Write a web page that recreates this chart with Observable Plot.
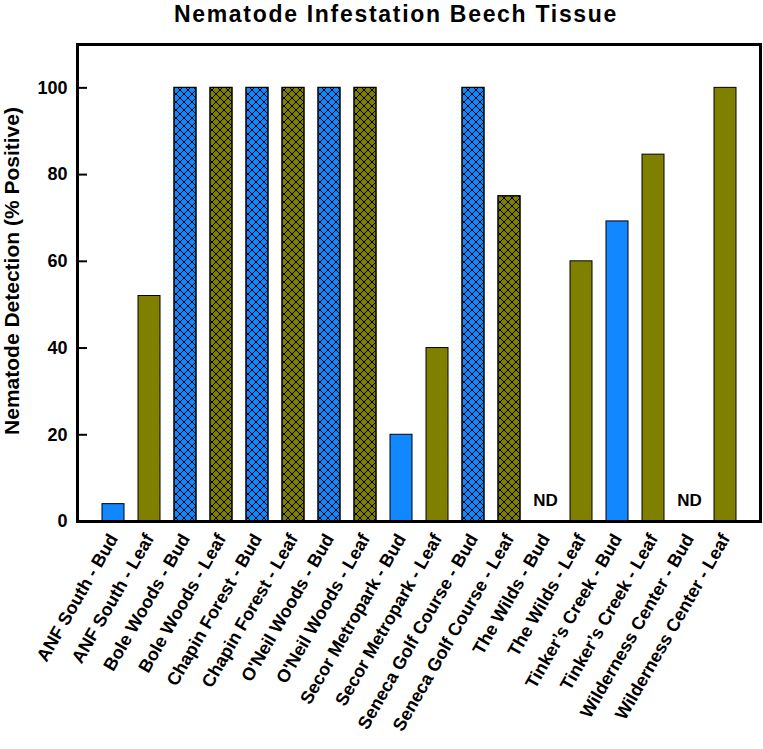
<!DOCTYPE html>
<html>
<head>
<meta charset="utf-8">
<script src="https://cdn.jsdelivr.net/npm/d3@7"></script>
<script src="https://cdn.jsdelivr.net/npm/@observablehq/plot@0.6"></script>
<style>
  body { margin: 0; background: #fff; font-family: "Liberation Sans", Arial, sans-serif; }
  #title { width: 763px; height: 30px; box-sizing: border-box; padding-left: 29px; text-align: center;
           font-weight: bold; font-size: 23px; letter-spacing: 1.7px; line-height: 28px; color: #000; }
</style>
</head>
<body>
<div id="title">Nematode Infestation Beech Tissue</div>
<div id="chart"></div>
<script>
const categories = [
  "ANF South - Bud", "ANF South - Leaf",
  "Bole Woods - Bud", "Bole Woods - Leaf",
  "Chapin Forest - Bud", "Chapin Forest - Leaf",
  "O'Neil Woods - Bud", "O'Neil Woods - Leaf",
  "Secor Metropark - Bud", "Secor Metropark - Leaf",
  "Seneca Golf Course - Bud", "Seneca Golf Course - Leaf",
  "The Wilds - Bud", "The Wilds - Leaf",
  "Tinker\u2019s Creek - Bud", "Tinker\u2019s Creek - Leaf",
  "Wilderness Center - Bud", "Wilderness Center - Leaf"
];
const values = [4, 52, 100, 100, 100, 100, 100, 100, 20, 40, 100, 75, 0, 60, 69.2, 84.6, 0, 100];
const tissue = ["Bud","Leaf","Bud","Leaf","Bud","Leaf","Bud","Leaf","Bud","Leaf","Bud","Leaf","Bud","Leaf","Bud","Leaf","Bud","Leaf"];
const hatched = [false,false,true,true,true,true,true,true,false,false,true,true,false,false,false,false,false,false];
const notDetected = [false,false,false,false,false,false,false,false,false,false,false,false,true,false,false,false,true,false];
const yTicks = [0, 20, 40, 60, 80, 100];
const tissueColors = ["#1188ff", "#808000"];

const data = categories.map((c, i) => ({cat: c, value: values[i], tissue: tissue[i], hatched: hatched[i], nd: notDetected[i]}));
const font = "Liberation Sans, Arial, sans-serif";

const plot = Plot.plot({
  width: 763,
  height: 719,
  marginLeft: 77,
  marginRight: 3,
  marginTop: 14,
  marginBottom: 228,
  style: {fontFamily: font, fontWeight: "bold", color: "#000", background: "#fff"},
  x: {domain: categories, padding: 0.39, paddingOuter: 0.68, label: null},
  y: {domain: [0, 110], label: null},
  color: {domain: ["Bud", "Leaf"], range: tissueColors},
  marks: [
    Plot.barY(data.filter(d => d.value > 0), {x: "cat", y: "value", fill: "tissue", stroke: "black", strokeWidth: 1}),
    Plot.barY(data.filter(d => d.hatched), {x: "cat", y: "value", fill: "url(#xhatch)", stroke: "black", strokeWidth: 1}),
    Plot.text(data.filter(d => d.nd), {x: "cat", y: "value", text: () => "ND", dy: -21, fontSize: 17, fontWeight: "bold", fill: "black"}),
    Plot.axisY({ticks: yTicks, tickSize: 0, tickPadding: 10, fontSize: 18, fontWeight: "bold", label: null, style: {letterSpacing: "0.6px"}}),
    Plot.axisY({ticks: yTicks, tickSize: 10, text: null, dx: 10, strokeWidth: 2, label: null}),
    Plot.axisX({tickSize: 0, tickRotate: -60, tickPadding: 14, fontSize: 18, fontWeight: "bold", label: null, style: {letterSpacing: "0.9px"}}),
    Plot.text(["Nematode Detection (% Positive)"], {frameAnchor: "left", textAnchor: "middle", rotate: -90, dx: -65, dy: -12, fontSize: 21, fontWeight: "bold", fill: "black", style: {letterSpacing: "1.4px"}}),
    Plot.frame({stroke: "black", strokeWidth: 3})
  ]
});

const svg = d3.select(plot);
const defs = svg.insert("defs", ":first-child");
const pat = defs.append("pattern").attr("id", "xhatch").attr("patternUnits", "userSpaceOnUse")
  .attr("width", 8).attr("height", 8);
pat.append("path").attr("d", "M-1,-1L9,9M9,-1L-1,9M-1,7L1,9M7,-1L9,1M-1,1L1,-1M7,9L9,7")
  .attr("stroke", "black").attr("stroke-width", 1).attr("fill", "none");

document.getElementById("chart").appendChild(plot);
</script>
</body>
</html>
